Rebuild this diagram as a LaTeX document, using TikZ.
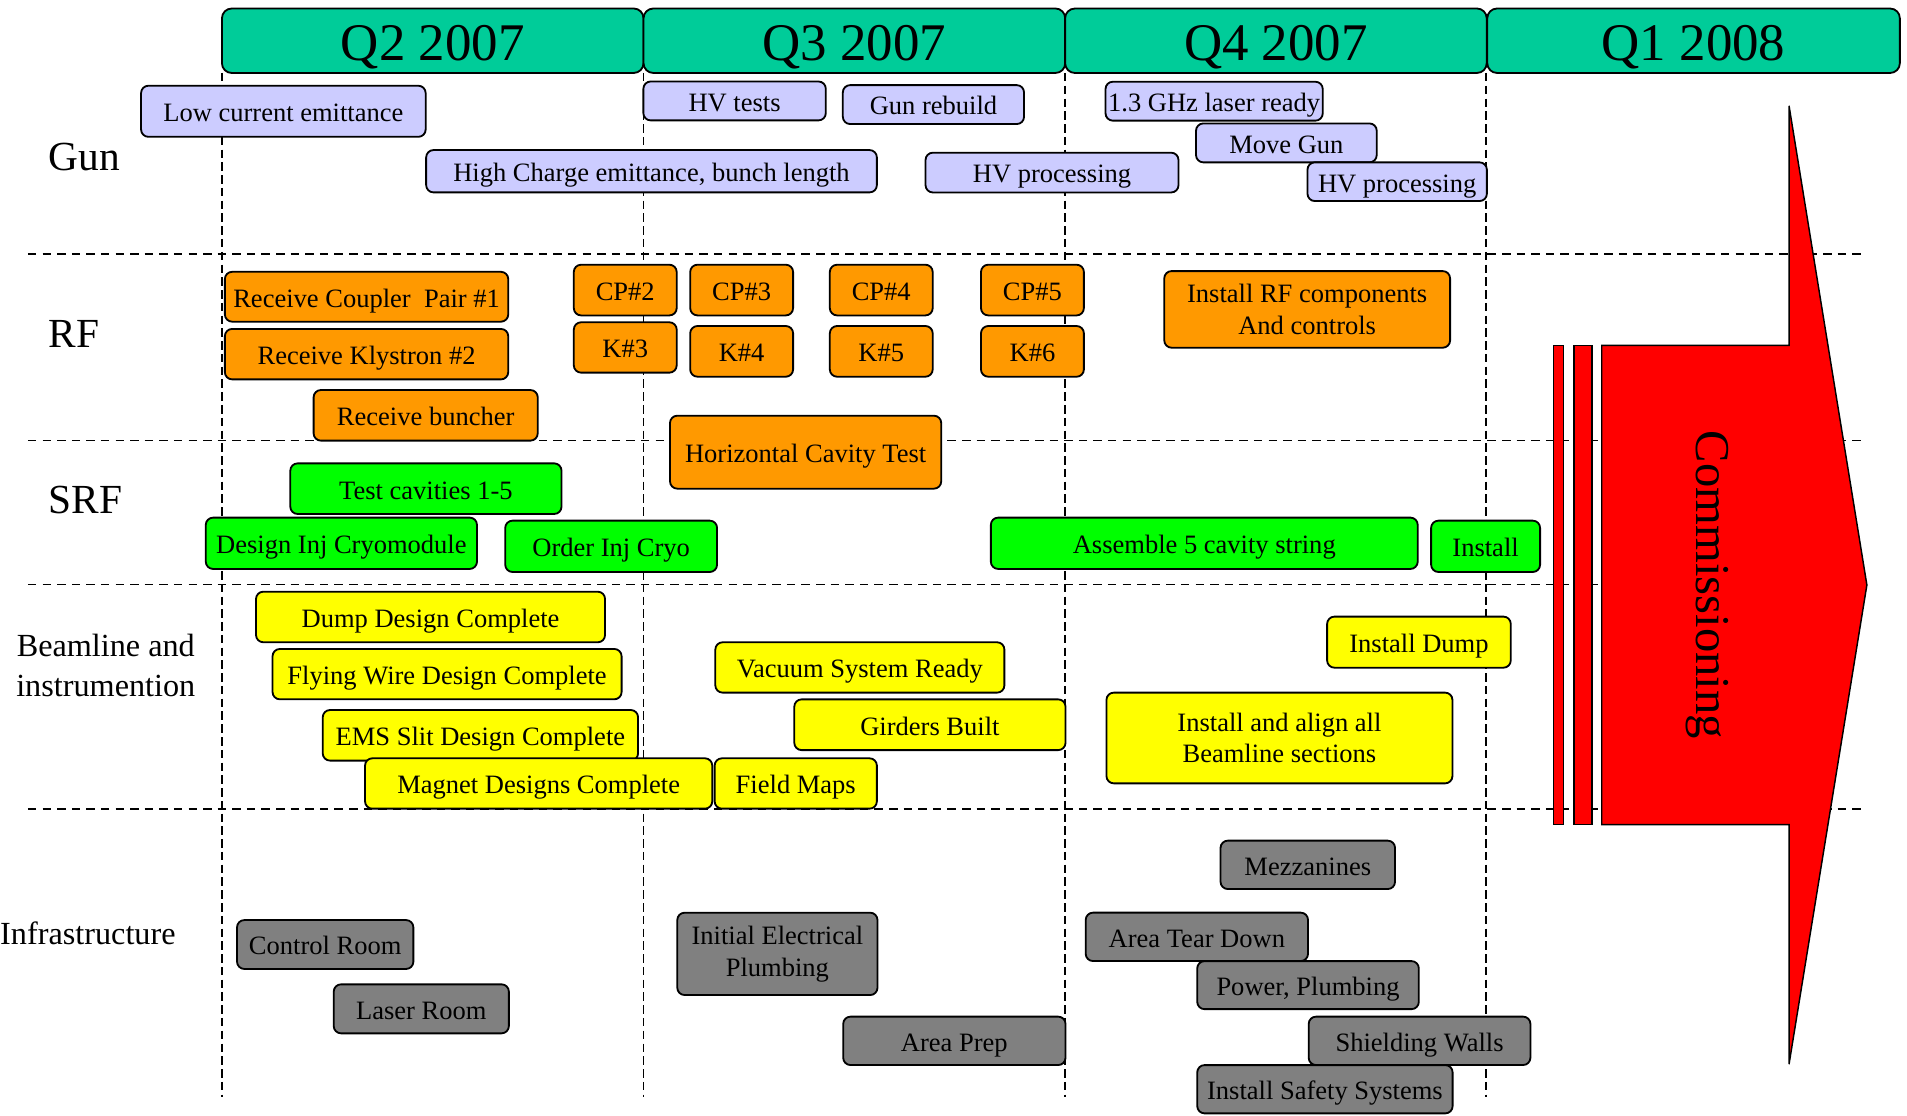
\documentclass[tikz,border=0pt]{standalone}
\usepackage{fontspec}
\setmainfont{Liberation Serif}
\definecolor{quarterteal}{HTML}{00CC99}
\definecolor{gunblue}{HTML}{CCCCFF}
\definecolor{rforange}{HTML}{FF9900}
\definecolor{srfgreen}{HTML}{00FF00}
\definecolor{beamyellow}{HTML}{FFFF00}
\definecolor{infragray}{HTML}{808080}

\tikzset{
  dims/.style 2 args={minimum width=#1pt, minimum height=#2pt},
  task/.style={draw, line width=1.5pt, rounded corners=6pt, inner sep=0pt, align=center,
    text height=17pt, text depth=0pt, font=\fontsize{21.8}{26}\selectfont},
  twoline/.style={text height={}, text depth={}},
  gun/.style={task, fill=gunblue},
  rf/.style={task, fill=rforange},
  srf/.style={task, fill=srfgreen},
  beam/.style={task, fill=beamyellow},
  infra/.style={task, fill=infragray},
  quarter/.style={draw, line width=1.5pt, rounded corners=8pt, fill=quarterteal, inner sep=0pt,
    text height=32pt, text depth=0pt, font=\fontsize{43.5}{46}\selectfont},
  rowlabel/.style={anchor=west, inner sep=0pt, font=\fontsize{34}{38}\selectfont},
  rowlabelsmall/.style={inner sep=0pt, align=center, font=\fontsize{26.5}{33}\selectfont},
  lane/.style={line width=1.4pt, dash pattern=on 7pt off 5pt},
  qline/.style={line width=1.2pt, dash pattern=on 7pt off 3.5pt},
}

\begin{document}
\begin{tikzpicture}[x=1pt, y=-1pt]
  \useasboundingbox (0,0) rectangle (1568,917);

  % grid: swim lanes and quarter boundaries
  \foreach \y in {209,362.3,480.5,665}
    \draw[lane] (23,\y) -- (1533,\y);
  \foreach \x in {182.5,529.1,875.8,1221.8}
    \draw[qline] (\x,60) -- (\x,902);

  % quarters
  \foreach \lab/\cx/\w [count=\i] in {Q2 2007/355.8/346.6, Q3 2007/702.5/346.7,
      Q4 2007/1049.1/346.6, Q1 2008/1392.5/339.2}
    \node[quarter, dims={\w}{53}] (q\i) at (\cx,33.5) {\lab};

  % row labels
  \node[rowlabel] (lgun) at (40,128.8) {Gun};
  \node[rowlabel] (lrf) at (40,274.3) {RF};
  \node[rowlabel] (lsrf) at (40,411.5) {SRF};
  \node[rowlabelsmall] (lbeam) at (87,547) {Beamline and\\instrumention};
  \node[rowlabelsmall, anchor=west] (linfra) at (0,767.8) {Infrastructure};

  % Gun
  \node[gun, dims={234}{42}] (lowcur) at (233,91.5) {Low current emittance};
  \node[gun, dims={150}{32}] (hvtests) at (604,83) {HV tests};
  \node[gun, dims={149}{32}] (rebuild) at (767.5,86) {Gun rebuild};
  \node[gun, dims={370.6}{34.8}] (highq) at (535.7,140.8) {High Charge emittance, bunch length};
  \node[gun, dims={208}{32.7}] (hvproca) at (865,141.9) {HV processing};
  \node[gun, dims={178.6}{32}] (laser) at (998.3,83.2) {1.3 GHz laser ready};
  \node[gun, dims={148.6}{32}] (movegun) at (1057.7,117.5) {Move Gun};
  \node[gun, dims={147.5}{31.8}] (hvprocb) at (1148.8,149.4) {HV processing};

  % RF
  \node[rf, dims={233}{41}] (coupler) at (301.4,244) {Receive Coupler\ \ Pair \#1};
  \node[rf, dims={233}{41.5}] (klystron) at (301.4,291.2) {Receive Klystron \#2};
  \node[rf, dims={184.3}{41.6}] (buncher) at (350,341.5) {Receive buncher};
  \foreach \n/\cx in {2/514.1, 3/609.8, 4/724.6, 5/848.9}
    \node[rf, dims={84.6}{41.7}] (cp\n) at (\cx,238.5) {CP\#\n};
  \node[rf, dims={84.6}{41.4}] (k3) at (514.1,285.7) {K\#3};
  \foreach \n/\cx in {4/609.8, 5/724.6, 6/848.9}
    \node[rf, dims={84.6}{41.7}] (k\n) at (\cx,288.9) {K\#\n};
  \node[rf, dims={223}{60}] (hcav) at (662.4,371.8) {Horizontal Cavity Test};
  \node[rf, twoline, dims={235}{63}] (rfinst) at (1074.8,254.4) {Install RF components\\And controls};

  % SRF
  \node[srf, dims={223}{41.6}] (testcav) at (350.2,401.8) {Test cavities 1-5};
  \node[srf, dims={223}{42.2}] (designcryo) at (280.7,446.7) {Design Inj Cryomodule};
  \node[srf, dims={174.2}{42.2}] (ordercryo) at (502.5,449.2) {Order Inj Cryo};
  \node[srf, dims={351}{42.2}] (assemble) at (990.2,446.7) {Assemble 5 cavity string};
  \node[srf, dims={89.6}{42.2}] (srfinst) at (1221.5,449.2) {Install};

  % Beamline and instrumentation
  \node[beam, dims={287}{41.6}] (dump) at (354,507.3) {Dump Design Complete};
  \node[beam, dims={287}{41.4}] (wire) at (367.6,554.3) {Flying Wire Design Complete};
  \node[beam, dims={259.3}{41.6}] (ems) at (395,604.6) {EMS Slit Design Complete};
  \node[beam, dims={285.5}{41.4}] (magnet) at (442.9,644.2) {Magnet Designs Complete};
  \node[beam, dims={133.4}{41.4}] (fieldmaps) at (654.3,644.2) {Field Maps};
  \node[beam, dims={237.7}{41.4}] (vacuum) at (707,548.8) {Vacuum System Ready};
  \node[beam, dims={223}{41.7}] (girders) at (764.6,595.9) {Girders Built};
  \node[beam, dims={151}{42}] (instdump) at (1166.7,528) {Install Dump};
  \node[beam, twoline, dims={284.5}{74.6}] (alignall) at (1052,606.8) {Install and align all\\Beamline sections};

  % Infrastructure
  \node[infra, dims={145}{40.2}] (control) at (267.4,776.6) {Control Room};
  \node[infra, dims={144}{40.3}] (laserroom) at (346.4,829.5) {Laser Room};
  \node[infra, twoline, dims={164.6}{67.7}] (elec) at (639.2,784.3) {Initial Electrical\\Plumbing};
  \node[infra, dims={182.8}{39.8}] (areaprep) at (784.7,855.8) {Area Prep};
  \node[infra, dims={143.5}{39.8}] (mezz) at (1075.3,711.1) {Mezzanines};
  \node[infra, dims={182.8}{39.8}] (teardown) at (984.1,770.3) {Area Tear Down};
  \node[infra, dims={182.2}{39.5}] (power) at (1075.5,810) {Power, Plumbing};
  \node[infra, dims={182.3}{39.8}] (shield) at (1167.2,855.8) {Shielding Walls};
  \node[infra, dims={210}{39.7}] (safety) at (1089.4,895.6) {Install Safety Systems};

  % commissioning arrow
  \draw[fill=red, line width=1.2pt] (1277.5,284) rectangle (1285.5,678);
  \draw[fill=red, line width=1.2pt] (1294,284) rectangle (1309,678);
  \draw[fill=red, line width=1.2pt] (1317,284) -- (1471,284) -- (1471,87) -- (1535,481)
    -- (1471,875) -- (1471,678) -- (1317,678) -- cycle;
  \node[rotate=-90, anchor=base, inner sep=0pt, font=\fontsize{40}{44}\selectfont]
    (commission) at (1395,481) {Commissioning};
\end{tikzpicture}
\end{document}
